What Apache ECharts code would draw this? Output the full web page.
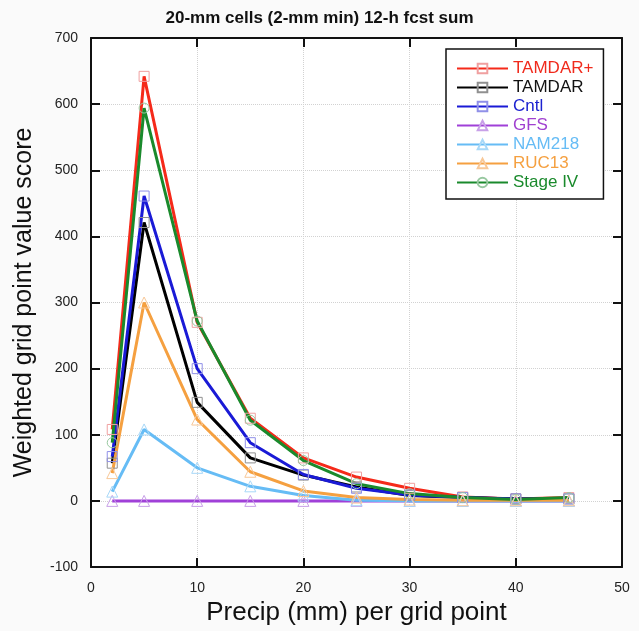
<!DOCTYPE html>
<html>
<head>
<meta charset="utf-8">
<script src="https://cdn.jsdelivr.net/npm/echarts@6/dist/echarts.min.js"></script>
<style>
  html, body { margin: 0; padding: 0; background: #fafafa; }
  #chart { width: 639px; height: 631px; }
</style>
</head>
<body>
<div id="chart"></div>
<script>
var precip = [2, 5, 10, 15, 20, 25, 30, 35, 40, 45];

var tamdarPlus = [108, 642, 270, 125, 65, 36, 19, 6, 3, 5];
var tamdar     = [57, 421, 149, 65, 39, 21, 8, 5, 3, 3];
var cntl       = [67, 461, 200, 88, 40, 19, 9, 5, 3, 3];
var gfs        = [0, 0, 0, 0, 0, 0, 0, 0, 0, 0];
var nam218     = [14, 108, 50, 22, 8, 1, 0, 0, 0, 0];
var ruc13      = [42, 300, 123, 44, 15, 5, 2, 1, 1, 1];
var stage4     = [88, 594, 272, 122, 61, 26, 11, 5, 2, 5];

var yTicks = [-100, 0, 100, 200, 300, 400, 500, 600, 700];
var xTicks = [0, 10, 20, 30, 40, 50];

function pairs(vals) {
    return precip.map(function(x, i) { return [x, vals[i]]; });
}

function makeSeries(name, vals, color, markColor, symbol) {
    return {
        name: name,
        type: 'line',
        data: pairs(vals),
        symbol: symbol,
        symbolSize: symbol === 'triangle' ? 11 : 10,
        showAllSymbol: true,
        lineStyle: { color: color, width: 3 },
        itemStyle: { color: 'rgba(255,255,255,0)', borderColor: markColor, borderWidth: 1 },
        emphasis: { disabled: true },
        z: 2
    };
}

var frameTick = { inside: true, length: 9, lineStyle: { color: '#111', width: 2 } };
var frameLine = { show: true, onZero: false, lineStyle: { color: '#111', width: 2 } };
var gridLine = { lineStyle: { color: '#d2d2d2', type: 'dotted', width: 1 } };

var chart = echarts.init(document.getElementById('chart'));
chart.setOption({
    backgroundColor: '#fafafa',
    animation: false,
    textStyle: { fontFamily: 'Liberation Sans, Arial, sans-serif' },
    title: {
        text: '20-mm cells (2-mm min) 12-h fcst sum',
        left: 'center',
        top: 5,
        textStyle: { fontSize: 17, fontWeight: 'bold', color: '#111' }
    },
    grid: { left: 91, right: 17, top: 38, bottom: 63, show: true, backgroundColor: '#fff', borderWidth: 0 },
    legend: {
        orient: 'vertical',
        left: 446,
        top: 49,
        width: 161,
        padding: [11, 10, 8, 10],
        itemWidth: 51,
        itemHeight: 12,
        itemGap: 2,
        backgroundColor: '#fff',
        borderColor: '#111',
        borderWidth: 1.5,
        textStyle: { fontSize: 17 },
        data: [
            { name: 'TAMDAR+', textStyle: { color: '#f02a1c' } },
            { name: 'TAMDAR', textStyle: { color: '#111111' } },
            { name: 'Cntl', textStyle: { color: '#1c22d0' } },
            { name: 'GFS', textStyle: { color: '#a040d0' } },
            { name: 'NAM218', textStyle: { color: '#66bcf5' } },
            { name: 'RUC13', textStyle: { color: '#f5a040' } },
            { name: 'Stage IV', textStyle: { color: '#1a8a2c' } }
        ]
    },
    xAxis: [{
        type: 'value',
        min: 0, max: 50, interval: 10,
        name: 'Precip (mm) per grid point',
        nameLocation: 'middle',
        nameGap: 33,
        nameTextStyle: { fontSize: 26, color: '#111' },
        axisLine: frameLine,
        axisTick: frameTick,
        axisLabel: { fontSize: 14, color: '#222', margin: 14 },
        splitLine: gridLine
    }, {
        type: 'value',
        position: 'top',
        min: 0, max: 50, interval: 10,
        axisLine: frameLine,
        axisTick: frameTick,
        axisLabel: { show: false },
        splitLine: { show: false }
    }],
    yAxis: [{
        type: 'value',
        min: -100, max: 700, interval: 100,
        name: 'Weighted grid point value score',
        nameLocation: 'middle',
        nameGap: 54,
        nameTextStyle: { fontSize: 25, color: '#111' },
        axisLine: frameLine,
        axisTick: frameTick,
        axisLabel: { fontSize: 14, color: '#222', margin: 13 },
        splitLine: gridLine
    }, {
        type: 'value',
        position: 'right',
        min: -100, max: 700, interval: 100,
        axisLine: frameLine,
        axisTick: frameTick,
        axisLabel: { show: false },
        splitLine: { show: false }
    }],
    series: [
        makeSeries('TAMDAR+', tamdarPlus, '#f52a1a', '#f0a0a0', 'rect'),
        makeSeries('TAMDAR', tamdar, '#000000', '#909090', 'rect'),
        makeSeries('Cntl', cntl, '#1a1ad6', '#9090e8', 'rect'),
        makeSeries('GFS', gfs, '#a040d8', '#c8a0e8', 'triangle'),
        makeSeries('NAM218', nam218, '#66bcf5', '#a8d8f8', 'triangle'),
        makeSeries('RUC13', ruc13, '#f5a040', '#f8c898', 'triangle'),
        makeSeries('Stage IV', stage4, '#1a8a2c', '#98c8a0', 'circle')
    ]
});
</script>
</body>
</html>
